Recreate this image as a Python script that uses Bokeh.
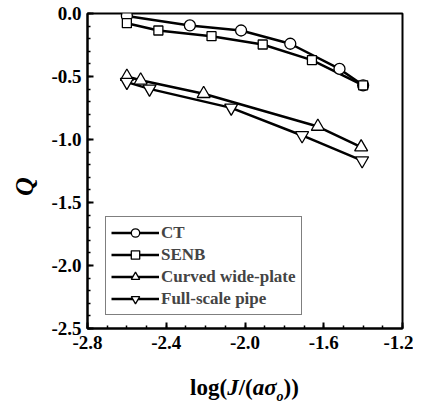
from bokeh.plotting import figure
from bokeh.models import Range1d, FixedTicker, PrintfTickFormatter, Legend, LegendItem, Div
from bokeh.layouts import column
from bokeh.embed import file_html
from bokeh.resources import INLINE

# ---- data ----
ct_x = [-2.60, -2.28, -2.02, -1.77, -1.52, -1.40]
ct_y = [-0.02, -0.095, -0.135, -0.24, -0.44, -0.57]

senb_x = [-2.60, -2.44, -2.17, -1.91, -1.66, -1.40]
senb_y = [-0.077, -0.135, -0.18, -0.246, -0.37, -0.57]

cwp_x = [-2.60, -2.53, -2.21, -1.63, -1.41]
cwp_y = [-0.50, -0.53, -0.637, -0.897, -1.06]

fsp_x = [-2.60, -2.485, -2.07, -1.71, -1.405]
fsp_y = [-0.545, -0.598, -0.749, -0.968, -1.167]

x_ticks = [-2.8, -2.4, -2.0, -1.6, -1.2]
y_ticks = [0.0, -0.5, -1.0, -1.5, -2.0, -2.5]
x_minor = [round(-2.8 + 0.1 * i, 2) for i in range(17)]
y_minor = [round(-0.1 * i, 2) for i in range(26)]

series_names = ["CT", "SENB", "Curved wide-plate", "Full-scale pipe"]

SERIF = "Liberation Serif"

p = figure(frame_width=315, frame_height=315, output_backend="svg", toolbar_location=None,
           x_range=Range1d(-2.8, -1.2), y_range=Range1d(-2.5, 0.0),
           min_border_left=87, min_border_right=11, min_border_top=13, min_border_bottom=30)
p.xgrid.visible = False
p.ygrid.visible = False
p.outline_line_color = "black"
p.outline_line_width = 2
p.background_fill_color = "white"

for ax, ticks, minor in ((p.xaxis[0], x_ticks, x_minor), (p.yaxis[0], y_ticks, y_minor)):
    ax.ticker = FixedTicker(ticks=ticks, minor_ticks=minor)
    ax.formatter = PrintfTickFormatter(format="%.1f")
    ax.axis_line_width = 2
    ax.axis_line_color = "black"
    ax.major_tick_in = 6
    ax.major_tick_out = 0
    ax.minor_tick_in = 3
    ax.minor_tick_out = 0
    ax.major_tick_line_width = 2
    ax.minor_tick_line_width = 1.5
    ax.major_label_text_font = SERIF
    ax.major_label_text_font_style = "bold"
    ax.major_label_text_font_size = "19px"
    ax.major_label_text_color = "black"
p.xaxis.major_label_standoff = 7
p.yaxis.major_label_standoff = 6

# trailing em/thin space shifts the rotated "Q" a little lower, as in the reference
p.yaxis.axis_label = "Q\u2003\u2009"
p.yaxis.axis_label_text_font = SERIF
p.yaxis.axis_label_text_font_style = "bold italic"
p.yaxis.axis_label_text_font_size = "26px"
p.yaxis.axis_label_text_color = "black"
p.yaxis.axis_label_standoff = 9

lw = 2.5
r_ct_l = p.line(ct_x, ct_y, line_color="black", line_width=lw)
r_senb_l = p.line(senb_x, senb_y, line_color="black", line_width=lw)
r_cwp_l = p.line(cwp_x, cwp_y, line_color="black", line_width=lw)
r_fsp_l = p.line(fsp_x, fsp_y, line_color="black", line_width=lw)

r_ct_m = p.scatter(ct_x, ct_y, marker="circle", size=11, fill_color="white", line_color="black", line_width=1.3)
r_senb_m = p.scatter(senb_x, senb_y, marker="square", size=9, fill_color="white", line_color="black", line_width=1.3)
r_cwp_m = p.scatter(cwp_x, cwp_y, marker="triangle", size=13, fill_color="white", line_color="black", line_width=1.3)
r_fsp_m = p.scatter(fsp_x, fsp_y, marker="inverted_triangle", size=13, fill_color="white", line_color="black", line_width=1.3)

legend = Legend(items=[
    LegendItem(label=series_names[0], renderers=[r_ct_l, r_ct_m]),
    LegendItem(label=series_names[1], renderers=[r_senb_l, r_senb_m]),
    LegendItem(label=series_names[2], renderers=[r_cwp_l, r_cwp_m]),
    LegendItem(label=series_names[3], renderers=[r_fsp_l, r_fsp_m]),
], location=(18, 13))
legend.border_line_color = "black"
legend.border_line_width = 1
legend.background_fill_color = "white"
legend.background_fill_alpha = 1
legend.label_text_font = SERIF
legend.label_text_font_style = "bold"
legend.label_text_font_size = "17px"
legend.glyph_width = 48
legend.glyph_height = 21
legend.label_height = 21
legend.spacing = 1
legend.padding = 5
legend.label_standoff = 2
p.add_layout(legend, "center")

xlabel = Div(
    text='<span style="font-family:\'Liberation Serif\';font-weight:bold;font-size:23px;color:black;white-space:nowrap">'
         'log(<i>J</i>/(<i>a&sigma;</i><sub style="font-size:14px"><i>o</i></sub>))</span>',
    width=315, height=26, margin=(18, 0, 0, 87),
    styles={"text-align": "center", "line-height": "24px"})

layout = column(p, xlabel, spacing=0)

open("out.html", "w").write(file_html(layout, INLINE))
